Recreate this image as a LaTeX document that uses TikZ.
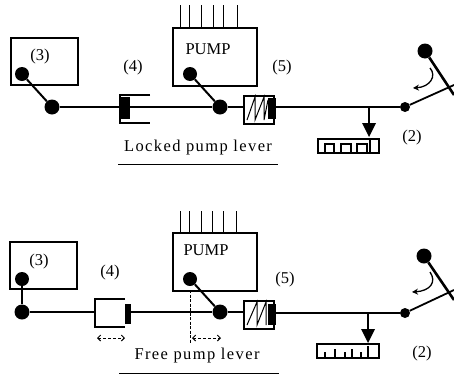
\documentclass[tikz,border=0pt]{standalone}
\usepackage{fontspec}
\setmainfont{Liberation Serif}
\newfontfamily\wide[LetterSpace=8.5]{Liberation Serif}
\usetikzlibrary{arrows.meta}
\tikzset{
 bx/.style={draw,line width=2pt,inner sep=0pt,anchor=north west},
 thin line/.style={line width=1pt},
 link/.style={line width=2pt},
 lab/.style={font=\fontsize{16.5}{17}\selectfont,inner sep=0pt},
 captiontext/.style={font=\wide\fontsize{16.5}{17}\selectfont,inner sep=0pt},
 bigdot/.style={circle,fill=black,inner sep=0pt,minimum size=15pt},
 smalldot/.style={circle,fill=black,inner sep=0pt,minimum size=10pt},
 solidblock/.style={fill=black,inner sep=0pt,anchor=north west},
 dimline/.style={line width=1pt,dash pattern=on 3pt off 2pt,{Straight Barb[length=3pt,width=6pt]}-{Straight Barb[length=3pt,width=6pt]}}
}
\newcommand{\boxat}[5]{\node[bx,minimum width=#3pt,minimum height=#4pt] (#5) at (#1,#2) {};}
\begin{document}
\begin{tikzpicture}[x=1pt,y=-1pt]
\useasboundingbox (0,0) rectangle (454,375);
% ---------- top panel
\boxat{10}{37}{67}{47}{aBox}
\node[lab] (aL3) at (40,57) {(3)};
\node[bigdot,minimum size=14pt] (aD1) at (22,74) {};
\node[bigdot] (aD2) at (52,107) {};
\draw[link] (aD1) -- (aD2);
\node[solidblock,minimum width=10pt,minimum height=22pt] (aB4) at (120,97) {};
\draw[link] (150,94.5) -- (120,94.5) -- (120,123) -- (150,123);
\draw[link] (aD2) -- (aD2 -| aB4.west);
\node[lab] (aL4) at (133,68) {(4)};
\boxat{172}{27}{84}{58}{aPump}
\foreach \x in {180,189,201,213,223,237} \draw[thin line] (\x,5) -- (\x,27);
\node[lab] (aP) at (208,49) {PUMP};
\node[bigdot,minimum size=14pt] (aD3) at (190,74) {};
\node[bigdot] (aD4) at (220,107) {};
\draw[link] (aD3) -- (aD4);
\draw[link] (aD4 -| aB4.east) -- (aD4);
\boxat{243}{94.5}{30}{28.5}{aS}
\node[solidblock,minimum width=8pt,minimum height=21pt] (aB5) at (268,98) {};
\draw[thin line] (247,120) -- (255,97) -- (255,120) -- (264,97) -- (264,120) -- (268,100);
\draw[link] (aD4) -- (aD4 -| aS.west);
\node[lab] (aL5) at (282,68) {(5)};
\node[smalldot] (aD5) at (405,107) {};
\draw[link] (aD5 -| aB5.east) -- (aD5);
\node[bigdot] (aH) at (425,51) {};
\draw[line width=2.6pt] (aH) -- (454,95);
\draw[line width=1.8pt] (aD5) -- (454,85);
\draw[line width=1.3pt,-{Stealth[length=6pt,width=6pt]}] (430,68) .. controls (437,76) and (430,87) .. (413,88);
\node[draw,line width=1.5pt,minimum width=61pt,minimum height=14pt,inner sep=0pt,anchor=north west] (aR) at (317,138) {};
\coordinate (aT) at (369,107);
\draw[link] (aT) -- (369,125);
\fill (362,123) -- (376,123) -- (369,137) -- cycle;
\foreach \a/\b in {325/334,341/351,357/367} \draw[line width=1.2pt] (\a,152) -- (\a,144) -- (\b,144) -- (\b,152);
\draw[line width=1.2pt] (370,138) -- (370,152);
\node[lab] (aL2) at (412,138) {(2)};
\node[captiontext] (aC) at (198,148) {Locked pump lever};
\draw[line width=0.9pt] (118,164) -- (278,164);
% ---------- bottom panel
\boxat{9}{241}{67}{47}{bBox}
\node[lab] (bL3) at (39,262) {(3)};
\node[bigdot,minimum size=14pt] (bD1) at (22,279) {};
\node[bigdot] (bD2) at (22,312) {};
\draw[link] (bD1) -- (bD2);
\draw[line width=2.4pt] (125,299) -- (95,299) -- (95,327) -- (125,327);
\node[solidblock,minimum width=6pt,minimum height=20pt] (bB4) at (125,304) {};
\draw[link] (bD2) -- (95,312);
\node[lab] (bL4) at (110,273) {(4)};
\draw[dimline] (97,338) -- (125,338);
\boxat{172}{232}{84}{58}{bPump}
\foreach \x in {180,189,201,212,223,236} \draw[thin line] (\x,211) -- (\x,232);
\node[lab] (bP) at (206,250) {PUMP};
\node[bigdot,minimum size=14pt] (bD3) at (190,279) {};
\node[bigdot] (bD4) at (220,312) {};
\draw[link] (bD3) -- (bD4);
\draw[link] (bD4 -| bB4.east) -- (bD4);
\draw[line width=0.9pt,dash pattern=on 3pt off 1.5pt] (190,290) -- (190,343);
\draw[dimline] (192,338) -- (221,338);
\boxat{243}{299.5}{30}{28}{bS}
\node[solidblock,minimum width=8pt,minimum height=21pt] (bB5) at (268,304) {};
\draw[thin line] (247,325) -- (257,302) -- (257,325) -- (266,302) -- (266,325);
\draw[link] (bD4) -- (bD4 -| bS.west);
\node[lab] (bL5) at (285,280) {(5)};
\node[smalldot] (bD5) at (405,313) {};
\draw[link] (bD5 -| bB5.east) -- (bD5);
\node[bigdot] (bH) at (424,256) {};
\draw[line width=2.6pt] (bH) -- (454,300);
\draw[line width=1.8pt] (bD5) -- (454,290);
\draw[line width=1.3pt,-{Stealth[length=6pt,width=6pt]}] (430,272) .. controls (437,282) and (430,291) .. (412,292);
\node[draw,line width=1.5pt,minimum width=62pt,minimum height=14pt,inner sep=0pt,anchor=north west] (bR) at (316,343) {};
\coordinate (bT) at (368,313);
\draw[link] (bT) -- (368,330);
\fill (361,329) -- (375,329) -- (368,343) -- cycle;
\foreach \x/\y in {325/352,335/349,345/352,352/349,361/352,368/346} \draw[line width=1.2pt] (\x,\y) -- (\x,357);
\node[lab] (bL2) at (422,354) {(2)};
\node[captiontext] (bC) at (197,356) {Free pump lever};
\draw[line width=0.9pt] (119,373) -- (279,373);
\end{tikzpicture}
\end{document}
